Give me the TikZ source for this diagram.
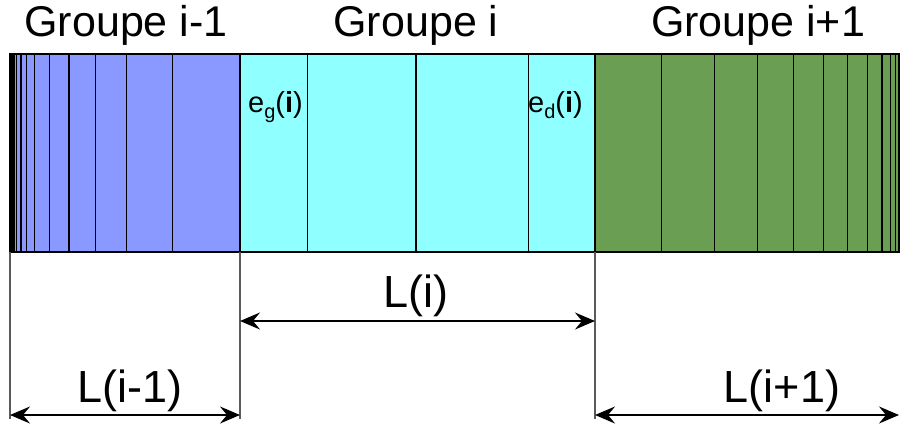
\documentclass[tikz,border=0pt]{standalone}
\usepackage{fontspec}
\setmainfont{Liberation Sans}
\usetikzlibrary{arrows.meta}
\definecolor{grpblue}{RGB}{138,153,255}
\definecolor{grpcyan}{RGB}{143,255,255}
\definecolor{grpgreen}{RGB}{106,158,82}
\definecolor{extgray}{RGB}{90,90,90}
\newcommand{\lowidx}[1]{\raisebox{-6pt}{\fontsize{20}{24}\selectfont #1}}
\begin{document}
\begin{tikzpicture}[x=1pt,y=-1pt,
  group/.style={draw=black,line width=1.4pt,inner sep=0pt,outer sep=0pt,
    anchor=north west,minimum height=198pt},
  cellline/.style={draw=black,line width=1.3pt},
  extline/.style={draw=extgray,line width=1.3pt},
  dimline/.style={draw=black,line width=1.5pt,
    {Stealth[length=20pt,width=17pt,inset=7pt]}-{Stealth[length=20pt,width=17pt,inset=7pt]}},
  title/.style={anchor=base,inner sep=0pt,font=\fontsize{43}{48}\selectfont},
  dimlabel/.style={anchor=base,inner sep=0pt,font=\fontsize{45}{50}\selectfont},
  edge label/.style={anchor=base west,inner sep=0pt,font=\fontsize{29}{34}\selectfont}]
\useasboundingbox (0,0) rectangle (900,426);

% the three groups of cells
\node[group,fill=grpblue,minimum width=230pt] (g1) at (10,54) {};
\node[group,fill=grpcyan,minimum width=355pt] (g2) at (240,54) {};
\node[group,fill=grpgreen,minimum width=304pt] (g3) at (595,54) {};

% cell boundaries, refined towards the outer ends
\foreach \x in {12,14,16.7,21,26.3,34.7,49.3,69,95.7,126.7,172.3}
  \draw[cellline] (\x,54) -- (\x,252);
\foreach \x in {307.3,416,528.7}
  \draw[cellline] (\x,54) -- (\x,252);
\foreach \x in {661.7,714.3,757.3,793.7,823.7,847.7,867.7,882,890.7,895.3}
  \draw[cellline] (\x,54) -- (\x,252);
\draw[draw=black,line width=1.4pt] (g1.north west) rectangle (g3.south east);

% group titles
\node[title] (t1) at (126,36) {Groupe i-1};
\node[title] (t2) at (416,36) {Groupe i};
\node[title] (t3) at (758,36) {Groupe i+1};

% edge cells of group i
\node[edge label] (eg) at (248,112) {e\lowidx{g}(\textbf{i})};
\node[edge label] (ed) at (528,112) {e\lowidx{d}(\textbf{i})};

% extension lines
\coordinate (b0) at (10,419);
\coordinate (b1) at (240,419);
\coordinate (b2) at (595,419);
\draw[extline] (g1.south west) -- (b0);
\draw[extline] (g2.south west) -- (b1);
\draw[extline] (g3.south west) -- (b2);

% dimension arrows
\coordinate (m1) at (240,321);
\coordinate (m2) at (595,321);
\coordinate (d0) at (10,415);
\coordinate (d1) at (240,415);
\coordinate (d2) at (595,415);
\coordinate (d3) at (899,415);
\draw[dimline] (m1) -- (m2);
\draw[dimline] (d0) -- (d1);
\draw[dimline] (d2) -- (d3);

\node[dimlabel] (li) at (416,307) {L(i)};
\node[dimlabel] (lim) at (130,402) {L(i-1)};
\node[dimlabel] (lip) at (782,402) {L(i+1)};
\end{tikzpicture}
\end{document}
